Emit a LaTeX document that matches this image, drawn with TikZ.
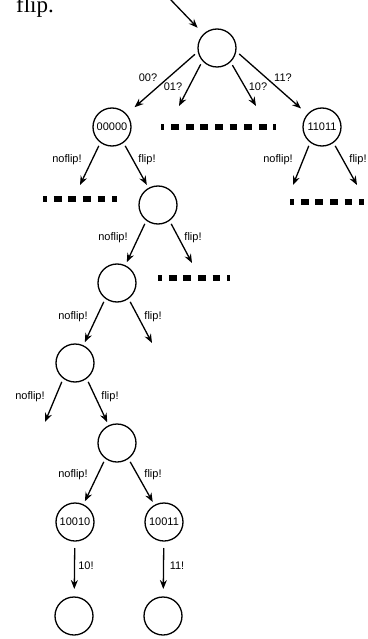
\documentclass[tikz,border=0pt]{standalone}
\usepackage{fontspec}
\newfontfamily\lblfont{Liberation Sans}
\newfontfamily\txtfont{Liberation Serif}
\usepackage{tikz}
\usetikzlibrary{positioning}
\usetikzlibrary{arrows.meta}

\begin{document}
\begin{tikzpicture}[x=1pt,y=-1pt]
\tikzstyle{main}=[circle, minimum size = 38pt, inner sep=0pt, line width=1.3pt, draw=black, outer sep=4pt, font=\lblfont\fontsize{11}{13}\selectfont]
\tikzstyle{connect}=[-{Stealth[length=9pt,width=7pt,inset=3pt]}, line width=1.3pt]
\tikzstyle{lbl}=[font=\lblfont\fontsize{11}{13}\selectfont, inner sep=0pt]
\tikzstyle{more}=[line width=5.3pt, dash pattern=on 7.8pt off 6.8pt]
  \useasboundingbox (0,0) rectangle (367,639);
  \clip (0,0) rectangle (367,639);

  % text of the page above, cut off
  \node[anchor=base east, inner sep=0pt, font=\txtfont\fontsize{23}{26}\selectfont] (pagetxt) at (54,12.5) {flip.};

  % states
  \node[main] (root) at (217,48) {};
  \node[main] (n00000) at (112,127) {00000};
  \node[main] (n11011) at (322,127) {11011};
  \node[main] (a) at (158,205) {};
  \node[main] (b) at (117,283) {};
  \node[main] (c) at (75,363) {};
  \node[main] (d) at (117,443) {};
  \node[main] (n10010) at (75,522) {10010};
  \node[main] (n10011) at (164,522) {10011};
  \node[main] (e) at (74,616) {};
  \node[main] (f) at (163,616) {};

  % loose ends
  \coordinate (in) at (170,-1);
  \coordinate (t01) at (179,106);
  \coordinate (t10) at (256,106);
  \coordinate (t00000l) at (80,185);
  \coordinate (t11011l) at (293,185);
  \coordinate (t11011r) at (357,185);
  \coordinate (tar) at (192,263);
  \coordinate (tbr) at (152,343);
  \coordinate (tcl) at (45,422);

  \path (in) edge [connect, shorten >=5pt] (root);
  \path (root.196) edge [connect, shorten >=7pt] (n00000);
  \path (root.225) edge [connect] (t01);
  \path (root.312) edge [connect] (t10);
  \path (root.345) edge [connect, shorten >=5pt] (n11011);

  \path (n00000.235) edge [connect] (t00000l);
  \path (n00000.305) edge [connect] (a);
  \path (n11011.235) edge [connect] (t11011l);
  \path (n11011.305) edge [connect] (t11011r);
  \path (a.235) edge [connect] (b);
  \path (a.305) edge [connect] (tar);
  \path (b.235) edge [connect] (c);
  \path (b.305) edge [connect] (tbr);
  \path (c.235) edge [connect] (tcl);
  \path (c.305) edge [connect] (d);
  \path (d.235) edge [connect] (n10010);
  \path (d.305) edge [connect] (n10011);
  \path (n10010) edge [connect, shorten <=3pt, shorten >=4pt] (e);
  \path (n10011) edge [connect, shorten <=3pt, shorten >=4pt] (f);

  % labels
  \node[lbl] (l00) at (148,78) {00?};
  \node[lbl] (l01) at (173,87) {01?};
  \node[lbl] (l10) at (258,87) {10?};
  \node[lbl] (l11) at (283,78) {11?};
  \node[lbl] (l1n) at (67,160) {noflip!};
  \node[lbl] (l1f) at (147,160) {flip!};
  \node[lbl] (l2n) at (278,160) {noflip!};
  \node[lbl] (l2f) at (358,160) {flip!};
  \node[lbl] (lan) at (113,238) {noflip!};
  \node[lbl] (laf) at (193,238) {flip!};
  \node[lbl] (lbn) at (73,317) {noflip!};
  \node[lbl] (lbf) at (153,317) {flip!};
  \node[lbl] (lcn) at (30,397) {noflip!};
  \node[lbl] (lcf) at (110,397) {flip!};
  \node[lbl] (ldn) at (73,475) {noflip!};
  \node[lbl] (ldf) at (153,475) {flip!};
  \node[lbl] (l10x) at (86,566) {10!};
  \node[lbl] (l11x) at (177,566) {11!};

  % unexplored branches
  \draw[more, dash phase=4.4pt] (161,127) -- (276,127);
  \draw[more, dash phase=3.8pt] (43,199) -- (117,199);
  \draw[more, dash phase=3.8pt] (290,202) -- (364,202);
  \draw[more, dash phase=3.8pt] (158,278) -- (230,278);
\end{tikzpicture}
\end{document}
